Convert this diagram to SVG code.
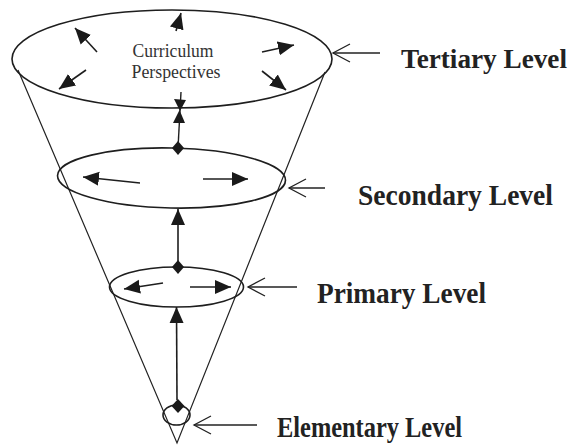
<svg xmlns="http://www.w3.org/2000/svg" width="574" height="445" viewBox="0 0 574 445">
<defs>
<marker id="ah" markerUnits="userSpaceOnUse" markerWidth="18" markerHeight="16" refX="16" refY="8" orient="auto">
<path d="M0,1 L16,8 L0,15 Z" fill="#1a1a1a"/>
</marker>
<marker id="open" markerUnits="userSpaceOnUse" markerWidth="20" markerHeight="22" refX="18" refY="11" orient="auto">
<path d="M1,2 L18,11 L1,20" fill="none" stroke="#222" stroke-width="1.3"/>
</marker>
</defs>
<style>
.ring{fill:none;stroke:#1e1e1e;stroke-width:1.6}
.cone{fill:none;stroke:#222;stroke-width:1.2}
.ln{stroke:#1e1e1e;stroke-width:1.4;fill:none}
.arr{stroke:#1e1e1e;stroke-width:1.6;fill:none;marker-end:url(#ah)}
.lab{stroke:#222;stroke-width:1.3;fill:none;marker-end:url(#open)}
.dia{fill:#1a1a1a}
.lvl{font-family:"Liberation Serif","Times New Roman",serif;font-weight:bold;font-size:29px;fill:#222}
.cp{font-family:"Liberation Serif","Times New Roman",serif;font-size:18px;fill:#333}
</style>
<rect width="574" height="445" fill="#fff"/>
<g id="cone">
<path class="cone" d="M18,70 L177,443 L325,72"/>
</g>
<g id="tertiary">
<ellipse class="ring" cx="172" cy="59" rx="160" ry="49"/>
<text class="cp" x="173" y="57" text-anchor="middle" textLength="81" lengthAdjust="spacingAndGlyphs">Curriculum</text>
<text class="cp" x="176" y="78" text-anchor="middle" textLength="89" lengthAdjust="spacingAndGlyphs">Perspectives</text>
<line class="arr" x1="176" y1="31" x2="181" y2="13"/>
<line class="arr" x1="97" y1="52" x2="75" y2="28"/>
<line class="arr" x1="262" y1="52" x2="294" y2="45"/>
<line class="arr" x1="86" y1="70" x2="59" y2="89"/>
<line class="arr" x1="262" y1="71" x2="286" y2="90"/>
</g>
<g id="secondary">
<ellipse class="ring" cx="171.5" cy="178" rx="114" ry="30" transform="rotate(1.2 171.5 178)"/>
<polygon class="dia" points="178,141 184,148 178,155 172,148"/>
<line class="arr" x1="140" y1="183" x2="83" y2="177"/>
<line class="arr" x1="203" y1="179" x2="248" y2="179"/>
</g>
<g id="primary">
<ellipse class="ring" cx="176.5" cy="287" rx="67" ry="20"/>
<polygon class="dia" points="178,260 184,267 178,274 172,267"/>
<line class="arr" x1="163" y1="283" x2="124" y2="289"/>
<line class="arr" x1="190" y1="287" x2="231" y2="287"/>
</g>
<g id="elementary">
<ellipse class="ring" cx="176.5" cy="415" rx="13.5" ry="10"/>
<polygon class="dia" points="178,399 184.5,406 178,413 171.5,406"/>
</g>
<g id="connectors">
<line class="ln" x1="178" y1="148" x2="181" y2="92"/>
<polygon class="dia" points="173,123 185,123 179.5,110"/>
<polygon class="dia" points="174,99 186,100 180,111"/>
<line class="arr" x1="178" y1="262" x2="178" y2="209"/>
<line class="arr" x1="177" y1="400" x2="176.5" y2="307"/>
<line class="lab" x1="380" y1="53" x2="333" y2="53"/>
<line class="lab" x1="325" y1="188" x2="289" y2="188"/>
<line class="lab" x1="297" y1="287" x2="248" y2="287"/>
<line class="lab" x1="257" y1="425" x2="194" y2="425"/>
</g>
<g id="labels">
<text class="lvl" x="401" y="68" style="font-size:27px" textLength="166" lengthAdjust="spacingAndGlyphs">Tertiary Level</text>
<text class="lvl" x="358" y="205" textLength="195" lengthAdjust="spacingAndGlyphs">Secondary Level</text>
<text class="lvl" x="317" y="303" textLength="169" lengthAdjust="spacingAndGlyphs">Primary Level</text>
<text class="lvl" x="277" y="437" textLength="185" lengthAdjust="spacingAndGlyphs">Elementary Level</text>
</g>
</svg>
